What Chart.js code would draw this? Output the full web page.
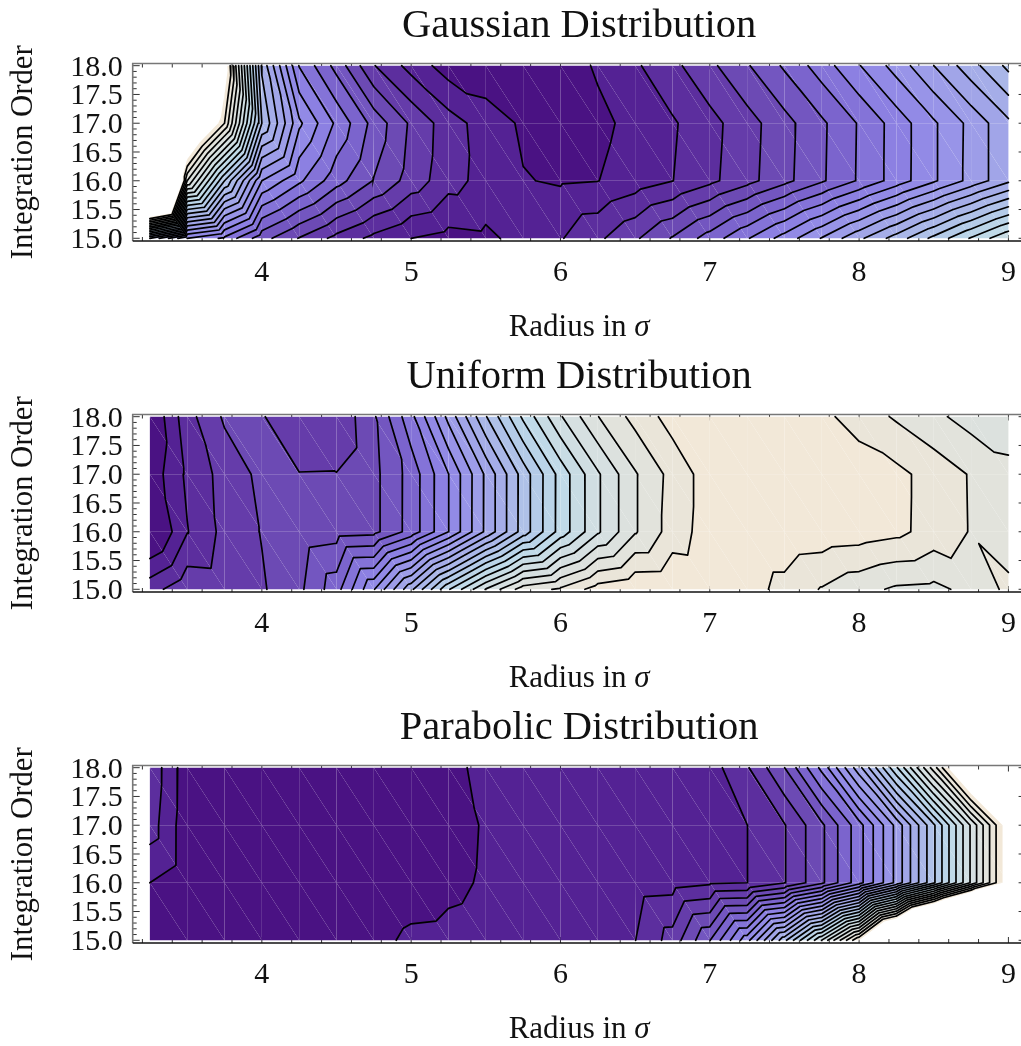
<!DOCTYPE html>
<html>
<head>
<meta charset="utf-8">
<title>Integration order contours</title>
<script src="https://cdn.jsdelivr.net/npm/chart.js@4/dist/chart.umd.min.js"></script>
<style>
    html, body { margin: 0; padding: 0; background: #fff; width: 1021px; height: 1046px; overflow: hidden; }
    canvas { position: absolute; left: 0; }
</style>
</head>
<body>
<canvas id="gaussianChart" width="1030" height="349" style="top:0"></canvas>
<canvas id="uniformChart" width="1030" height="349" style="top:351px"></canvas>
<canvas id="parabolicChart" width="1030" height="349" style="top:702px"></canvas>
<script>
// grid the contours were computed on
const radius = [3.25, 3.5, 3.75, 4, 4.25, 4.5, 4.75, 5, 5.25, 5.5, 5.75, 6, 6.25, 6.5, 6.75, 7, 7.25, 7.5, 7.75, 8, 8.25, 8.5, 8.75, 9];
const orders = [18, 17, 16, 15];

// values in units of contour level
const gaussian18 = [50, 35, 27, 13.8, 7.95, 5.65, 3.05, 1.64, .5, .3, .3, .45, 1.13, 1.85, 2.73, 3.76, 4.9, 6.14, 7.5, 8.94, 10.4, 12, 13.6, 15.25];
const gaussian17 = [50, 31, 25, 15, 10.2, 7.8, 5.65, 3.82, 2.46, 1.53, .85, .7, .75, 1.29, 1.88, 2.67, 3.6, 4.65, 5.82, 7.09, 8.44, 9.85, 11.3, 12.8];
const gaussian16 = [48, 23, 16, 10, 8.2, 6.4, 4.95, 3.58, 2.39, 1.64, 1.05, .9, .98, 1.48, 1.98, 2.76, 3.67, 4.71, 5.86, 7.12, 8.46, 9.85, 11.33, 12.8];
const gaussian15 = [13, 9, 7.8, 5.4, 3.95, 2.7, 1.73, 1, .67, .8, 1.32, 1.92, 2.8, 3.85, 5.08, 6.44, 7.9, 9.41, 11.06, 12.77, 14.45, 16.27, 18.1, 19.87];

const uniform18 = [0, 2.62, 4.15, 4.05, 3.5, 3.15, 4.85, 7.7, 11.3, 14.93, 18.2, 20.9, 22.97, 24.34, 25.4, 25.6, 25.7, 25.6, 25.25, 24.55, 23.87, 23.23, 22.6, 22.5];
const uniform17 = [.34, 2.2, 3.38, 4.25, 4.02, 4.03, 4.72, 6.39, 8.98, 12.18, 15.43, 18.38, 20.86, 22.9, 24.35, 25.5, 25.7, 25.7, 25.6, 25.6, 25.27, 24.6, 23.92, 23.25];
const uniform16 = [-.4, 1.95, 3.3, 4.05, 4.4, 4.6, 4.72, 6.4, 9, 12.2, 15.45, 18.4, 20.85, 22.9, 24.45, 25.5, 25.7, 25.7, 25.6, 25.5, 25.25, 24.6, 23.94, 23.45];
const uniform15 = [2.6, 3.7, 3.6, 3.88, 4.77, 6.6, 9.92, 13.76, 17.88, 21.06, 23.5, 24.15, 25.45, 25.9, 25.95, 25.8, 25.4, 24.7, 23.93, 23.33, 22.85, 22.75, 23.3, 24.23];

const parabolic18 = [2.75, .4, .25, .25, .25, .25, .3, .6, .85, 1.15, 1.25, 1.3, 1.35, 1.4, 1.45, 1.55, 2.89, 4.98, 8.27, 12.62, 17.87, 23.5, 30, 38];
const parabolic17 = [2.5, .36, .3, .3, .3, .3, .4, .55, .7, 1.07, 1.18, 1.31, 1.45, 1.58, 1.72, 1.85, 1.99, 2.94, 4.8, 7.6, 11.3, 15.83, 21.15, 26.9];
const parabolic16 = [1, .35, .3, .25, .25, .25, .25, .5, .8, 1.1, 1.2, 1.33, 1.46, 1.55, 1.62, 1.87, 2, 2.95, 4.8, 7.6, 11.3, 15.83, 21.15, 26.9];
const parabolic15 = [.3, .3, .3, .3, .3, .4, .7, 1.2, 1.25, 1.35, 1.4, 1.5, 1.75, 1.98, 3.42, 5.96, 9.65, 14.7, 20.04, 26, 35, 44, 51, 60];

const xTickValues = [4, 5, 6, 7, 8, 9];
const yTickValues = [15, 15.5, 16, 16.5, 17, 17.5, 18];

// one colour per band between contour levels, white above the last one
const bandColors = [
    "rgb(74,18,131)", "rgb(84,34,148)", "rgb(92,46,158)", "rgb(101,60,170)", "rgb(108,74,180)",
    "rgb(115,86,192)", "rgb(123,100,205)", "rgb(132,115,216)", "rgb(140,128,226)", "rgb(146,138,230)",
    "rgb(152,148,232)", "rgb(157,157,232)", "rgb(161,165,232)", "rgb(165,173,232)", "rgb(170,183,232)",
    "rgb(175,193,232)", "rgb(180,203,232)", "rgb(186,212,232)", "rgb(192,218,232)", "rgb(200,220,228)",
    "rgb(208,222,226)", "rgb(214,224,225)", "rgb(220,225,222)", "rgb(226,227,220)", "rgb(234,229,217)",
    "rgb(242,232,216)"
];

const serif = "'Liberation Serif', serif";

// the mesh: every grid square splits along the diagonal that falls to the right
function meshTriangles(rows) {
    const tris = [];
    for (let j = 0; j < rows.length - 1; j++) {
        for (let i = 0; i < radius.length - 1; i++) {
            const a = {x: radius[i], y: orders[j], z: rows[j][i]};
            const b = {x: radius[i], y: orders[j + 1], z: rows[j + 1][i]};
            const c = {x: radius[i + 1], y: orders[j + 1], z: rows[j + 1][i + 1]};
            const d = {x: radius[i + 1], y: orders[j], z: rows[j][i + 1]};
            tris.push([a, b, c], [a, d, c]);
        }
    }
    return tris;
}

function crossing(p, q, level) {
    const t = (level - p.z) / (q.z - p.z);
    return {x: p.x + t * (q.x - p.x), y: p.y + t * (q.y - p.y), z: level};
}

// keep the part of a polygon on one side of a level
function clip(poly, level, keepAbove) {
    const out = [];
    const inside = p => keepAbove ? p.z >= level : p.z <= level;
    for (let i = 0; i < poly.length; i++) {
        const p = poly[i];
        const q = poly[(i + 1) % poly.length];
        if (inside(p)) out.push(p);
        if (inside(p) !== inside(q)) out.push(crossing(p, q, level));
    }
    return out;
}

function contourDatasets(rows) {
    const tris = meshTriangles(rows);
    const sets = [];

    bandColors.forEach((color, band) => {
        const data = [];
        tris.forEach(tri => {
            let poly = clip(tri, band + 1, false);
            if (band > 0) poly = clip(poly, band, true);
            if (poly.length < 3) return;
            poly.forEach(p => data.push({x: p.x, y: p.y}));
            data.push({x: null, y: null});
        });
        if (data.length) {
            sets.push({
                label: "band " + band, data: data, showLine: true, fill: "shape",
                backgroundColor: color, borderWidth: 0, pointRadius: 0, order: 1
            });
        }
    });

    for (let level = 1; level <= 25; level++) {
        const data = [];
        tris.forEach(tri => {
            const pts = [];
            for (let i = 0; i < 3; i++) {
                const p = tri[i];
                const q = tri[(i + 1) % 3];
                if ((p.z >= level) !== (q.z >= level)) pts.push(crossing(p, q, level));
            }
            if (pts.length === 2) {
                data.push({x: pts[0].x, y: pts[0].y}, {x: pts[1].x, y: pts[1].y}, {x: null, y: null});
            }
        });
        if (data.length) {
            sets.push({
                label: "level " + level, data: data, showLine: true, fill: false,
                borderColor: "#000", borderWidth: 1.7, borderCapStyle: "round",
                pointRadius: 0, order: 0
            });
        }
    }
    return sets;
}

// frame with inward ticks, drawn under the data like in the original
const framePlugin = {
    id: "frame",
    beforeDatasetsDraw(chart) {
        const {ctx, chartArea: area, scales} = chart;
        ctx.save();
        ctx.lineWidth = 1;
        ctx.strokeStyle = "#333";
        ctx.beginPath();
        for (let v = 3.2; v < 9.1; v += 0.2) {
            const px = scales.x.getPixelForValue(v);
            const major = Math.abs(v - Math.round(v)) < 0.01;
            const len = major ? 6 : 4;
            ctx.moveTo(px, area.top);
            ctx.lineTo(px, area.top + len);
            ctx.moveTo(px, area.bottom);
            ctx.lineTo(px, area.bottom - len);
        }
        for (let k = 150; k <= 180; k++) {
            const py = scales.y.getPixelForValue(k / 10);
            const len = k % 5 === 0 ? 7 : 4;
            ctx.moveTo(area.left, py);
            ctx.lineTo(area.left + len, py);
            ctx.moveTo(area.right, py);
            ctx.lineTo(area.right - len, py);
        }
        ctx.stroke();
        ctx.lineWidth = 1.6;
        ctx.strokeStyle = "#777";
        ctx.beginPath();
        ctx.moveTo(area.left, area.bottom);
        ctx.lineTo(area.left, area.top);
        ctx.lineTo(area.right, area.top);
        ctx.stroke();
        ctx.strokeStyle = "#111";
        ctx.beginPath();
        ctx.moveTo(area.left, area.bottom);
        ctx.lineTo(area.right, area.bottom);
        ctx.stroke();
        ctx.restore();
    },
    afterDraw(chart) {
        // the x title mixes a roman and an italic run, which a scale title can't do
        const {ctx, chartArea: area} = chart;
        const roman = "31px " + serif;
        const italic = "italic 31px " + serif;
        ctx.save();
        ctx.fillStyle = "#111";
        ctx.textBaseline = "middle";
        ctx.font = roman;
        const w1 = ctx.measureText("Radius in ").width;
        ctx.font = italic;
        const w2 = ctx.measureText("σ").width;
        const startX = (area.left + area.right - w1 - w2) / 2;
        ctx.font = roman;
        ctx.fillText("Radius in ", startX, 328);
        ctx.font = italic;
        ctx.fillText("σ", startX + w1, 328);
        ctx.restore();
    }
};

function drawPanel(id, titleText, rows) {
    new Chart(document.getElementById(id), {
        type: "scatter",
        data: {datasets: contourDatasets(rows)},
        plugins: [framePlugin],
        options: {
            responsive: false,
            animation: false,
            events: [],
            plugins: {
                legend: {display: false},
                tooltip: {enabled: false},
                title: {
                    display: true,
                    text: titleText,
                    fullSize: false,
                    color: "#111",
                    font: {family: serif, size: 40.5, weight: "normal", lineHeight: 1},
                    padding: {top: 6.5, bottom: 16.5}
                }
            },
            scales: {
                x: {
                    type: "linear",
                    min: 3.135,
                    max: 9.115,
                    afterBuildTicks: axis => { axis.ticks = xTickValues.map(v => ({value: v})); },
                    afterFit: axis => { axis.height = 108; },
                    grid: {display: false, drawTicks: false},
                    border: {display: false},
                    ticks: {
                        autoSkip: false, maxRotation: 0, padding: 14, color: "#111",
                        font: {family: serif, size: 30}
                    }
                },
                y: {
                    type: "linear",
                    min: 14.953,
                    max: 18.038,
                    afterBuildTicks: axis => { axis.ticks = yTickValues.map(v => ({value: v})); },
                    afterFit: axis => { axis.width = 132.7; },
                    grid: {display: false, drawTicks: false},
                    border: {display: false},
                    title: {
                        display: true,
                        text: "Integration Order",
                        color: "#111",
                        font: {family: serif, size: 30.7},
                        padding: {top: 6, bottom: 0}
                    },
                    ticks: {
                        autoSkip: false, padding: 10, color: "#111", labelOffset: 2,
                        font: {family: serif, size: 30, lineHeight: 1},
                        callback: v => v.toFixed(1)
                    }
                }
            }
        }
    });
}

drawPanel("gaussianChart", "Gaussian Distribution", [gaussian18, gaussian17, gaussian16, gaussian15]);
drawPanel("uniformChart", "Uniform Distribution", [uniform18, uniform17, uniform16, uniform15]);
drawPanel("parabolicChart", "Parabolic Distribution", [parabolic18, parabolic17, parabolic16, parabolic15]);
</script>
</body>
</html>
